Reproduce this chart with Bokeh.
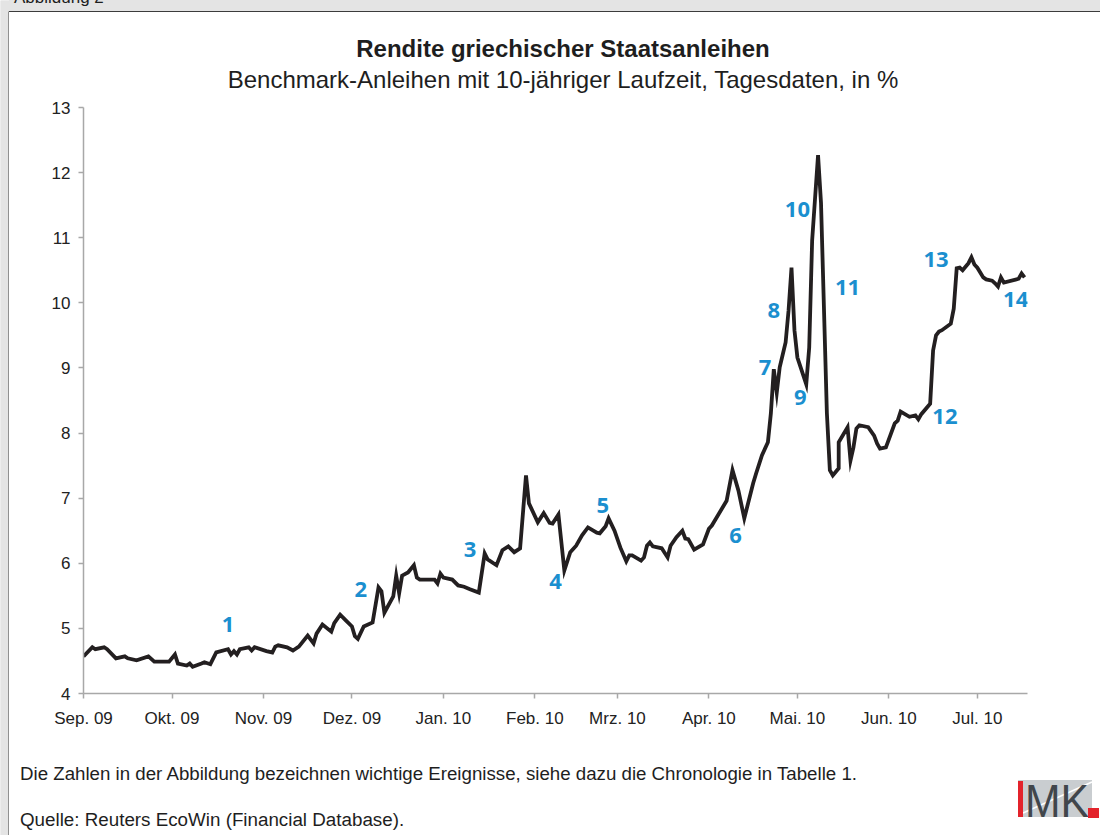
from bokeh.plotting import figure
from bokeh.layouts import row, column
from bokeh.models import FixedTicker, CustomJSTickFormatter, Range1d, ColumnDataSource, Div
from bokeh.core.properties import value
from bokeh.embed import file_html
from bokeh.resources import INLINE
import pandas as pd

# ---------------- data ----------------
dates = [
    "2009-09-01", "2009-09-04", "2009-09-05", "2009-09-08", "2009-09-09", "2009-09-12",
    "2009-09-15", "2009-09-16", "2009-09-19", "2009-09-23", "2009-09-25", "2009-09-30",
    "2009-10-02", "2009-10-03", "2009-10-06", "2009-10-07", "2009-10-08", "2009-10-11",
    "2009-10-12", "2009-10-14", "2009-10-16", "2009-10-20", "2009-10-21", "2009-10-22",
    "2009-10-23", "2009-10-24", "2009-10-27", "2009-10-28", "2009-10-29",
    "2009-11-02", "2009-11-04", "2009-11-05", "2009-11-06", "2009-11-09", "2009-11-11",
    "2009-11-13", "2009-11-16", "2009-11-18", "2009-11-19", "2009-11-21", "2009-11-24",
    "2009-11-25", "2009-11-27", "2009-11-29",
    "2009-12-01", "2009-12-02", "2009-12-03", "2009-12-05", "2009-12-08", "2009-12-10",
    "2009-12-11", "2009-12-12", "2009-12-15", "2009-12-16", "2009-12-17", "2009-12-18",
    "2009-12-20", "2009-12-22", "2009-12-23", "2009-12-24", "2009-12-29", "2009-12-30",
    "2009-12-31",
    "2010-01-01", "2010-01-04", "2010-01-06", "2010-01-08", "2010-01-10", "2010-01-13",
    "2010-01-15", "2010-01-16", "2010-01-19", "2010-01-21", "2010-01-23", "2010-01-25",
    "2010-01-27", "2010-01-29", "2010-01-30",
    "2010-02-02", "2010-02-04", "2010-02-06", "2010-02-07", "2010-02-09", "2010-02-11",
    "2010-02-13", "2010-02-15", "2010-02-17", "2010-02-19", "2010-02-22", "2010-02-23",
    "2010-02-25", "2010-02-26", "2010-02-28",
    "2010-03-02", "2010-03-04", "2010-03-05", "2010-03-06", "2010-03-09", "2010-03-10",
    "2010-03-11", "2010-03-12", "2010-03-13", "2010-03-16", "2010-03-18", "2010-03-19",
    "2010-03-21", "2010-03-23", "2010-03-24", "2010-03-25", "2010-03-27", "2010-03-30",
    "2010-04-01", "2010-04-02", "2010-04-07", "2010-04-09", "2010-04-11", "2010-04-13",
    "2010-04-16", "2010-04-17", "2010-04-19", "2010-04-21", "2010-04-22", "2010-04-23",
    "2010-04-24", "2010-04-25", "2010-04-27", "2010-04-28", "2010-04-29", "2010-04-30",
    "2010-05-01", "2010-05-04", "2010-05-05", "2010-05-06", "2010-05-08", "2010-05-09",
    "2010-05-11", "2010-05-12", "2010-05-13", "2010-05-15", "2010-05-15", "2010-05-18",
    "2010-05-19", "2010-05-20", "2010-05-21", "2010-05-22", "2010-05-25", "2010-05-27",
    "2010-05-28", "2010-05-29", "2010-05-31",
    "2010-06-03", "2010-06-04", "2010-06-05", "2010-06-08", "2010-06-10", "2010-06-11",
    "2010-06-12", "2010-06-15", "2010-06-16", "2010-06-17", "2010-06-18", "2010-06-19",
    "2010-06-22", "2010-06-23", "2010-06-24", "2010-06-25", "2010-06-26", "2010-06-28",
    "2010-06-29", "2010-06-30",
    "2010-07-01", "2010-07-03", "2010-07-04", "2010-07-06", "2010-07-07", "2010-07-08",
    "2010-07-09", "2010-07-10", "2010-07-15", "2010-07-16", "2010-07-17",
]

yields = [
    4.57, 4.71, 4.68, 4.71, 4.68, 4.54, 4.57, 4.54, 4.51, 4.57, 4.49, 4.49,
    4.60, 4.46, 4.43, 4.46, 4.41, 4.46, 4.48, 4.45, 4.63, 4.68, 4.60, 4.65,
    4.60, 4.68, 4.71, 4.66, 4.71,
    4.65, 4.63, 4.72, 4.74, 4.71, 4.66, 4.72, 4.89, 4.77, 4.92, 5.06, 4.95,
    5.08, 5.21, 5.12,
    5.03, 4.88, 4.84, 5.03, 5.09, 5.63, 5.57, 5.24, 5.49, 5.81, 5.54, 5.81,
    5.86, 5.97, 5.78, 5.75, 5.75, 5.69, 5.84,
    5.78, 5.75, 5.66, 5.64, 5.60, 5.55, 6.15, 6.06, 5.97, 6.20, 6.26, 6.17,
    6.23, 7.35, 6.92,
    6.63, 6.77, 6.62, 6.61, 6.75, 5.89, 6.17, 6.27, 6.43, 6.55, 6.47, 6.46,
    6.57, 6.69, 6.50,
    6.24, 6.03, 6.12, 6.12, 6.04, 6.09, 6.27, 6.32, 6.26, 6.23, 6.09, 6.27,
    6.40, 6.50, 6.38, 6.37, 6.21, 6.29,
    6.53, 6.58, 6.96, 7.43, 7.12, 6.69, 7.23, 7.38, 7.66, 7.86, 8.30, 8.98,
    8.62, 9.01, 9.39, 9.88, 10.54, 9.58,
    9.16, 8.75, 9.31, 10.96, 12.27, 11.54, 8.30, 7.43, 7.35, 7.46, 7.86, 8.09,
    7.58, 7.78, 8.07, 8.12, 8.09, 7.96, 7.84, 7.76, 7.78,
    8.15, 8.19, 8.33, 8.25, 8.27, 8.21, 8.29, 8.45, 9.27, 9.50, 9.56, 9.58,
    9.68, 9.91, 10.53, 10.54, 10.50, 10.61, 10.70, 10.59,
    10.54, 10.39, 10.36, 10.34, 10.30, 10.25, 10.39, 10.31, 10.37, 10.45, 10.39,
]

event_labels = ["1", "2", "3", "4", "5", "6", "7", "8", "9", "10", "11", "12", "13", "14"]
event_dates = ["2009-10-20", "2009-12-04", "2010-01-10", "2010-02-08", "2010-02-24",
               "2010-04-10", "2010-04-20", "2010-04-23", "2010-05-02", "2010-05-01",
               "2010-05-18", "2010-06-20", "2010-06-17", "2010-07-14"]
event_yields = [5.06, 5.60, 6.21, 5.72, 6.89, 6.43, 9.01, 9.88, 8.55, 11.43,
                10.24, 8.25, 10.67, 10.05]

tick_months = ["2009-09-01", "2009-10-01", "2009-11-01", "2009-12-01", "2010-01-01",
               "2010-02-01", "2010-03-01", "2010-04-01", "2010-05-01", "2010-06-01",
               "2010-07-01"]
month_names = ["Jan", "Feb", "Mrz", "Apr", "Mai", "Jun", "Jul", "Aug", "Sep", "Okt", "Nov", "Dez"]
y_ticks = [4, 5, 6, 7, 8, 9, 10, 11, 12, 13]

figure_label = "Abbildung 2"
title_text = "Rendite griechischer Staatsanleihen"
subtitle_text = "Benchmark-Anleihen mit 10-jähriger Laufzeit, Tagesdaten, in %"
note_text = ("Die Zahlen in der Abbildung bezeichnen wichtige Ereignisse, "
             "siehe dazu die Chronologie in Tabelle 1.")
source_text = "Quelle: Reuters EcoWin (Financial Database)."
logo_text = "MK"

assert len(dates) == len(yields)

# ---------------- layout constants (pixels) ----------------
TOTAL_H = 835
LEFT_W = 9          # grey page margin + frame line
W = 1091            # width of the content column
HEAD_H = 98
MAIN_H = 640
FOOT_H = TOTAL_H - HEAD_H - MAIN_H

FONT = "Liberation Sans"
GREY_BG = "#e4e4e4"
BORDER = "#3c3c3c"
TEXT = "#1e1e1e"

# ---- left grey strip with the frame line ----
left = figure(width=LEFT_W, height=TOTAL_H, output_backend="svg", toolbar_location=None,
              x_axis_type=None, y_axis_type=None, title=None,
              x_range=Range1d(0, LEFT_W), y_range=Range1d(TOTAL_H, 0),
              min_border=0, min_border_left=0, min_border_right=0,
              min_border_top=0, min_border_bottom=0)
left.outline_line_color = None
left.grid.visible = False
left.background_fill_color = GREY_BG
left.border_fill_color = GREY_BG
left.quad(left=[0], right=[LEFT_W], top=[0], bottom=[TOTAL_H], fill_color=GREY_BG, line_color=None)
left.quad(left=[LEFT_W - 1], right=[LEFT_W], top=[11], bottom=[TOTAL_H],
          fill_color=BORDER, line_color=None)

# ---- header (inline svg) ----
head_svg = f"""
<svg width="{W}" height="{HEAD_H}" style="display:block" xmlns="http://www.w3.org/2000/svg">
  <rect x="0" y="0" width="{W}" height="11" fill="{GREY_BG}"/>
  <rect x="0" y="11" width="{W}" height="1" fill="{BORDER}"/>
  <text x="5" y="3" font-family="{FONT}" font-size="17" fill="{TEXT}">{figure_label}</text>
  <text x="554" y="57" text-anchor="middle" font-family="{FONT}" font-weight="bold"
        font-size="24" fill="{TEXT}">{title_text}</text>
  <text x="554" y="88" text-anchor="middle" font-family="{FONT}"
        font-size="24" fill="{TEXT}">{subtitle_text}</text>
</svg>"""
head = Div(text=head_svg, width=W, height=HEAD_H, margin=0, styles={"overflow": "hidden"})

# ---- main chart ----
x_start = pd.Timestamp("2009-09-01").to_pydatetime()
x_end = pd.Timestamp("2010-07-18").to_pydatetime()

p = figure(width=W, height=MAIN_H, x_axis_type="datetime", output_backend="svg",
           toolbar_location=None, title=None, x_range=Range1d(x_start, x_end),
           y_range=Range1d(4, 13), min_border_left=74, min_border_right=73,
           min_border_top=9, min_border_bottom=45)
p.outline_line_color = None
p.grid.grid_line_color = None
p.background_fill_color = "white"
p.border_fill_color = "white"

src = ColumnDataSource(dict(date=pd.to_datetime(dates), y=yields))
p.line("date", "y", source=src, line_color="#231f20", line_width=3.8, line_join="miter")

ev = ColumnDataSource(dict(date=pd.to_datetime(event_dates), y=event_yields, t=event_labels))
p.text("date", "y", text="t", source=ev, text_font=value("Open Sans"),
       text_font_style="bold", text_font_size="22px", text_color="#1b8fcf",
       text_align="center", text_baseline="middle")

tick_ms = [int(pd.Timestamp(t).value // 10**6) for t in tick_months]
p.xaxis.ticker = FixedTicker(ticks=tick_ms)
p.xaxis.formatter = CustomJSTickFormatter(args=dict(names=month_names), code="""
const d = new Date(tick);
const y = d.getUTCFullYear() % 100;
return names[d.getUTCMonth()] + ". " + (y < 10 ? "0" + y : "" + y);
""")
p.yaxis.ticker = FixedTicker(ticks=y_ticks)

for ax in (p.xaxis, p.yaxis):
    ax.axis_line_color = "#a8a8a8"
    ax.axis_line_width = 1.5
    ax.major_tick_line_color = "#a8a8a8"
    ax.major_tick_line_width = 1.5
    ax.major_tick_in = 0
    ax.major_tick_out = 5
    ax.minor_tick_line_color = None
    ax.major_label_text_font = FONT
    ax.major_label_text_font_size = "17px"
    ax.major_label_text_color = "#222222"
p.xaxis.major_label_standoff = 10
p.yaxis.major_label_standoff = 8

# ---- footer with notes and logo (inline svg) ----
foot_svg = f"""
<svg width="{W}" height="{FOOT_H}" style="display:block" xmlns="http://www.w3.org/2000/svg">
  <text x="11" y="42" font-family="{FONT}" font-size="18.7" fill="{TEXT}">{note_text}</text>
  <text x="11" y="88" font-family="{FONT}" font-size="18.8" fill="{TEXT}">{source_text}</text>
  <rect x="1009" y="42" width="74" height="37" fill="#c9cdd0"/>
  <line x1="1014" y1="75" x2="1083" y2="44" stroke="white" stroke-width="1.5"/>
  <rect x="1009" y="43" width="5" height="36" fill="#e3232b"/>
  <text x="1016" y="79" font-family="{FONT}" font-size="47" fill="#41464b"
        textLength="64" lengthAdjust="spacingAndGlyphs">{logo_text}</text>
  <rect x="1079" y="70" width="11" height="10" fill="#e3232b"/>
</svg>"""
foot = Div(text=foot_svg, width=W, height=FOOT_H, margin=0, styles={"overflow": "hidden"})

layout = row(left, column(head, p, foot, spacing=0), spacing=0)

open("out.html", "w").write(file_html(layout, INLINE))
